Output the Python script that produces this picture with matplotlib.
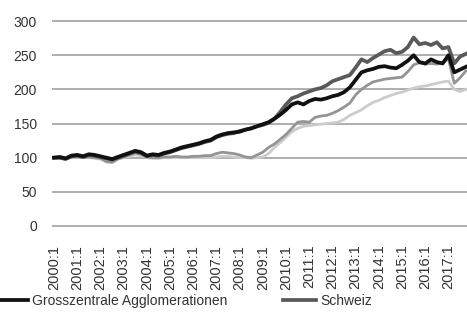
import matplotlib as mpl
import matplotlib.pyplot as plt
import numpy as np

mpl.rcParams["font.family"] = ["Liberation Sans", "DejaVu Sans"]

# quarterly index, 2000:1 = 100
years = list(range(2000, 2018))
tick_label = ["%d:1" % y for y in years]

grosszentrale = [100, 101, 99, 103, 104, 102, 105, 104, 102, 100, 98, 101,
                 104, 107, 110, 108, 103, 105, 104, 107, 109, 112, 115, 117,
                 119, 121, 124, 126, 131, 134, 136, 137, 138, 141, 143, 146,
                 149, 152, 157, 163, 170, 178, 181, 178, 183, 186, 185, 187,
                 190, 192, 196, 203, 214, 225, 228, 230, 233, 234, 232, 231,
                 236, 242, 250, 240, 238, 244, 240, 238, 250, 225, 229, 233]
schweiz = [100, 100, 98, 102, 103, 101, 104, 103, 101, 99, 97, 100,
           103, 106, 109, 107, 102, 104, 103, 106, 108, 111, 114, 116,
           118, 120, 123, 125, 130, 133, 135, 136, 139, 141, 143, 146,
           148, 151, 157, 167, 178, 187, 190, 194, 197, 200, 202, 206,
           212, 215, 218, 221, 232, 244, 240, 246, 251, 256, 258, 253,
           255, 262, 276, 266, 268, 265, 269, 260, 262, 238, 248, 252]
serie3 = [100, 99, 98, 101, 102, 100, 101, 100, 99, 94, 93, 98,
          101, 104, 107, 105, 101, 100, 100, 101, 101, 102, 101, 101,
          102, 102, 103, 103, 106, 108, 107, 106, 104, 101, 100, 104,
          108, 115, 120, 127, 134, 143, 152, 153, 152, 159, 161, 162,
          165, 169, 174, 180, 192, 200, 206, 211, 213, 215, 216, 217,
          218, 226, 236, 239, 237, 238, 237, 239, 245, 209, 217, 227]
serie4 = [100, 100, 99, 101, 101, 100, 100, 99, 98, 96, 95, 98,
          100, 102, 104, 103, 100, 99, 99, 100, 100, 100, 100, 100,
          100, 100, 100, 100, 101, 102, 102, 101, 100, 100, 99, 100,
          101, 106, 115, 122, 130, 138, 143, 146, 147, 148, 149, 150,
          151, 152, 156, 162, 166, 170, 176, 181, 184, 188, 191, 194,
          196, 199, 202, 204, 205, 207, 209, 211, 212, 200, 197, 200]

x = np.arange(len(grosszentrale))

fig = plt.figure(figsize=(4.67, 3.17), dpi=100)
ax = fig.add_axes([0.112, 0.2808, 0.888, 0.659])

ax.plot(x, serie4, color="#cccccc", lw=2, solid_joinstyle="round")
ax.plot(x, serie3, color="#949494", lw=2, solid_joinstyle="round")
l2, = ax.plot(x, schweiz, color="#5a5a5a", lw=2.7, solid_joinstyle="round")
l1, = ax.plot(x, grosszentrale, color="#111111", lw=2.7, solid_joinstyle="round")

ax.set_xlim(-0.3, 71.2)
ax.set_ylim(-3, 303)
ax.set_yticks([0, 50, 100, 150, 200, 250, 300])
ax.set_xticks(np.arange(0, 72, 4))
ax.set_xticklabels(tick_label, rotation=90, fontsize=10.5, color="#333333")
ax.tick_params(axis="y", length=0, pad=11, labelsize=10, labelcolor="#333333")
ax.tick_params(axis="x", length=0, pad=12)
ax.grid(True, axis="y", color="#a8a8a8", lw=1.3)
ax.set_axisbelow(True)
for s in ax.spines.values():
    s.set_visible(False)

fig.legend([l1, l2], ["Grosszentrale Agglomerationen", "Schweiz"],
           loc="center left", bbox_to_anchor=(-0.012, 0.05), ncol=2,
           frameon=False, fontsize=10, handlelength=2.4, handletextpad=0.3,
           columnspacing=4.0, borderpad=0, borderaxespad=0,
           labelcolor="#333333")

fig.savefig("out.png", dpi=100)
